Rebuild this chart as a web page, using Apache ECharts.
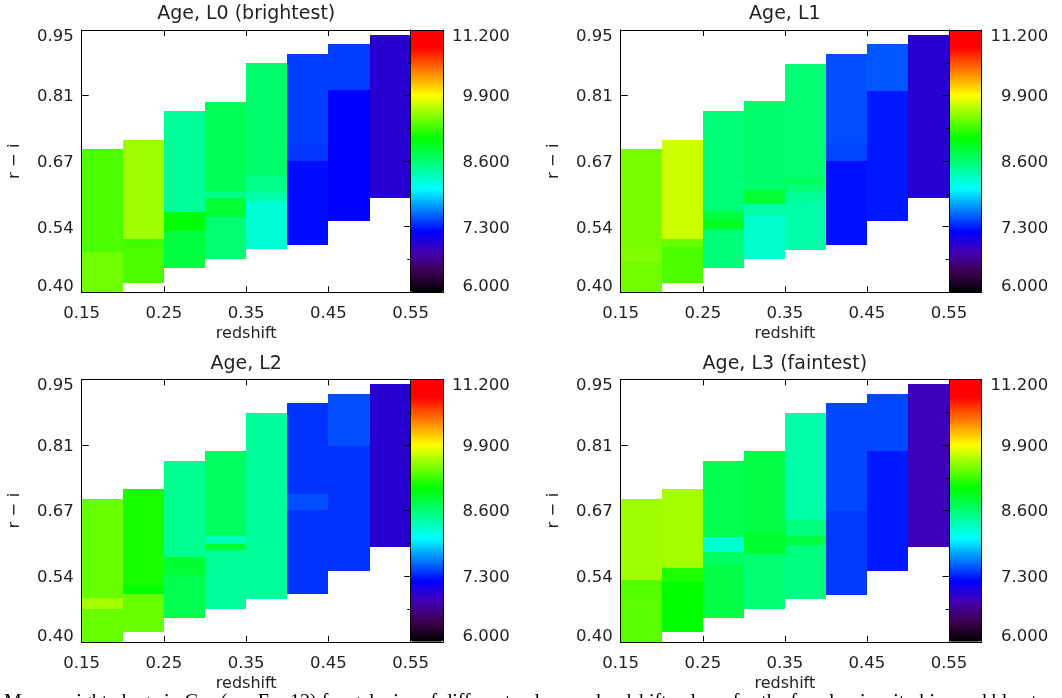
<!DOCTYPE html>
<html>
<head>
<meta charset="utf-8">
<script src="https://cdn.jsdelivr.net/npm/echarts@6/dist/echarts.min.js"></script>
<style>
html,body{margin:0;padding:0;background:#fff;}
#chart{width:1062px;height:698px;}
</style>
</head>
<body>
<div id="chart"></div>
<script>
// ---------- data ----------
const redshiftEdges = [0.15, 0.20, 0.25, 0.30, 0.35, 0.40, 0.45, 0.50, 0.55];
const xTickValues = [0.15, 0.25, 0.35, 0.45, 0.55];
const xTickLabels = ['0.15', '0.25', '0.35', '0.45', '0.55'];
const yTickValues = [0.40, 0.5375, 0.675, 0.8125, 0.95];
const yTickLabels = ['0.40', '0.54', '0.67', '0.81', '0.95'];
const cbTickValues = [6.0, 7.3, 8.6, 9.9, 11.2];
const cbTickLabels = ['6.000', '7.300', '8.600', '9.900', '11.200'];
const cbMinorTickValues = [6.65, 7.95, 9.25, 10.55];
const panelTitles = ['Age, L0 (brightest)', 'Age, L1', 'Age, L2', 'Age, L3 (faintest)'];
const caption = 'Mass-weighted age in Gyr (see Eq. 12) for galaxies of different colour and redshift values, for the four luminosity bins and blue to red colours';

// cells: [redshift bin index, r-i low, r-i high, age (Gyr)]
const ageL0 = [
  [0, 0.400, 0.484, 9.42], [0, 0.484, 0.700, 9.30],
  [1, 0.420, 0.494, 9.30], [1, 0.494, 0.512, 9.25], [1, 0.512, 0.719, 9.58],
  [2, 0.450, 0.529, 8.80], [2, 0.529, 0.569, 9.03], [2, 0.569, 0.780, 8.45],
  [3, 0.469, 0.557, 8.60], [3, 0.557, 0.598, 8.85], [3, 0.598, 0.610, 8.52], [3, 0.610, 0.799, 8.72],
  [4, 0.490, 0.591, 8.22], [4, 0.591, 0.610, 8.40], [4, 0.610, 0.644, 8.50], [4, 0.644, 0.881, 8.62],
  [5, 0.500, 0.676, 7.24], [5, 0.676, 0.714, 7.38], [5, 0.714, 0.900, 7.41],
  [6, 0.550, 0.824, 7.20], [6, 0.824, 0.921, 7.41],
  [7, 0.598, 0.940, 6.96]
];
const ageL1 = [
  [0, 0.400, 0.464, 9.43], [0, 0.464, 0.492, 9.48], [0, 0.492, 0.700, 9.44],
  [1, 0.420, 0.496, 9.30], [1, 0.496, 0.512, 9.39], [1, 0.512, 0.719, 9.73],
  [2, 0.450, 0.532, 8.58], [2, 0.532, 0.552, 8.92], [2, 0.552, 0.571, 8.80], [2, 0.571, 0.780, 8.58],
  [3, 0.470, 0.559, 8.25], [3, 0.559, 0.586, 8.38], [3, 0.586, 0.615, 8.85], [3, 0.615, 0.801, 8.63],
  [4, 0.489, 0.590, 8.38], [4, 0.590, 0.611, 8.45], [4, 0.611, 0.628, 8.60], [4, 0.628, 0.642, 8.70], [4, 0.642, 0.879, 8.60],
  [5, 0.500, 0.675, 7.25], [5, 0.675, 0.714, 7.43], [5, 0.714, 0.900, 7.46],
  [6, 0.550, 0.822, 7.28], [6, 0.822, 0.921, 7.49],
  [7, 0.598, 0.940, 6.96]
];
const ageL2 = [
  [0, 0.400, 0.469, 9.40], [0, 0.469, 0.491, 9.60], [0, 0.491, 0.699, 9.39],
  [1, 0.420, 0.500, 9.39], [1, 0.500, 0.519, 9.06], [1, 0.519, 0.720, 9.13],
  [2, 0.450, 0.540, 8.74], [2, 0.540, 0.578, 8.86], [2, 0.578, 0.779, 8.48],
  [3, 0.469, 0.593, 8.45], [3, 0.593, 0.605, 8.86], [3, 0.605, 0.622, 8.33], [3, 0.622, 0.800, 8.68],
  [4, 0.489, 0.597, 8.45], [4, 0.597, 0.879, 8.44],
  [5, 0.501, 0.676, 7.37], [5, 0.676, 0.710, 7.46], [5, 0.710, 0.900, 7.37],
  [6, 0.548, 0.811, 7.37], [6, 0.811, 0.919, 7.46],
  [7, 0.599, 0.940, 6.96]
];
const ageL3 = [
  [0, 0.400, 0.492, 9.35], [0, 0.492, 0.529, 9.33], [0, 0.529, 0.699, 9.58],
  [1, 0.420, 0.526, 9.05], [1, 0.526, 0.555, 9.14], [1, 0.555, 0.720, 9.60],
  [2, 0.450, 0.561, 8.78], [2, 0.561, 0.589, 8.66], [2, 0.589, 0.620, 8.24], [2, 0.620, 0.779, 8.74],
  [3, 0.469, 0.583, 8.60], [3, 0.583, 0.629, 8.86], [3, 0.629, 0.800, 8.78],
  [4, 0.489, 0.603, 8.55], [4, 0.603, 0.622, 8.80], [4, 0.622, 0.657, 8.55], [4, 0.657, 0.879, 8.38],
  [5, 0.499, 0.675, 7.39], [5, 0.675, 0.900, 7.44],
  [6, 0.548, 0.800, 7.28], [6, 0.800, 0.919, 7.44],
  [7, 0.599, 0.940, 6.84]
];
const panelData = [ageL0, ageL1, ageL2, ageL3];

// ---------- style / layout ----------
const AGE_MIN = 6.0, AGE_MAX = 11.2;
const cmapStops = [
  [6.0, [0, 0, 0]], [6.4, [60, 0, 80]], [6.8, [68, 0, 180]], [7.2, [0, 0, 255]],
  [8.05, [0, 255, 255]], [9.05, [0, 255, 0]], [9.9, [255, 255, 0]],
  [10.85, [255, 0, 0]], [11.2, [255, 0, 0]]
];
function cmap(v) {
  for (let i = 0; i < cmapStops.length - 1; i++) {
    const a = cmapStops[i], b = cmapStops[i + 1];
    if (v <= b[0] + 1e-9) {
      const t = Math.max(0, Math.min(1, (v - a[0]) / (b[0] - a[0])));
      const c = a[1].map((x, k) => Math.round(x + (b[1][k] - x) * t));
      return 'rgb(' + c.join(',') + ')';
    }
  }
  return 'rgb(255,0,0)';
}
const cmapColors = [];
for (let i = 0; i <= 104; i++) cmapColors.push(cmap(AGE_MIN + i * 0.05));

const layouts = [
  { left: 81.7, top: 30.0, width: 329.0, height: 262.3, cb: 32.6 },
  { left: 620.7, top: 30.0, width: 328.3, height: 262.3, cb: 32.7 },
  { left: 81.7, top: 379.4, width: 329.0, height: 262.4, cb: 32.6 },
  { left: 620.7, top: 379.4, width: 328.3, height: 262.4, cb: 32.7 }
];
const FONT = 'DejaVu Sans';
const TXT = '#222';
const lineStyle = { color: '#000', width: 1 };
const richLabels = {
  top: { fontFamily: FONT, fontSize: 16.5, color: TXT, padding: [13, 0, 0, 0] },
  mid: { fontFamily: FONT, fontSize: 16.5, color: TXT, padding: [3, 0, 0, 0] },
  bot: { fontFamily: FONT, fontSize: 16.5, color: TXT, padding: [0, 0, 11, 0] }
};
function tickFormatter(values, labels) {
  return function (v) {
    let idx = 0;
    for (let i = 0; i < values.length; i++) if (Math.abs(values[i] - v) < 1e-6) idx = i;
    const key = idx === 0 ? 'bot' : (idx === values.length - 1 ? 'top' : 'mid');
    return '{' + key + '|' + labels[idx] + '}';
  };
}

const grids = [], xAxes = [], yAxes = [], series = [], visualMaps = [];
layouts.forEach((L, p) => {
  grids.push({ left: L.left, top: L.top, width: L.width, height: L.height, containLabel: false });
});
layouts.forEach((L, p) => {
  grids.push({ left: L.left + L.width, top: L.top, width: L.cb, height: L.height, containLabel: false });
});

layouts.forEach((L, p) => {
  // plot: bottom x axis
  xAxes.push({
    gridIndex: p, type: 'value', min: 0.15, max: 0.55, position: 'bottom',
    axisLine: { show: true, onZero: false, lineStyle },
    axisTick: { show: true, inside: true, length: 6, lineStyle, customValues: xTickValues },
    axisLabel: {
      show: true, customValues: xTickValues, margin: 13,
      fontFamily: FONT, fontSize: 16.5, color: TXT,
      formatter: v => xTickLabels[xTickValues.findIndex(t => Math.abs(t - v) < 1e-6)]
    },
    splitLine: { show: false },
    name: 'redshift', nameLocation: 'middle', nameGap: 34,
    nameTextStyle: { fontFamily: FONT, fontSize: 16, color: TXT }
  });
  // plot: top x axis (title)
  xAxes.push({
    gridIndex: p, type: 'value', min: 0.15, max: 0.55, position: 'top',
    axisLine: { show: true, onZero: false, lineStyle },
    axisTick: { show: true, inside: true, length: 6, lineStyle, customValues: xTickValues },
    axisLabel: { show: false },
    splitLine: { show: false },
    name: panelTitles[p], nameLocation: 'middle', nameGap: 6,
    nameTextStyle: { fontFamily: FONT, fontSize: 19, color: TXT }
  });
  // plot: left y axis
  yAxes.push({
    gridIndex: p, type: 'value', min: 0.40, max: 0.95, position: 'left',
    axisLine: { show: true, onZero: false, lineStyle },
    axisTick: { show: true, inside: true, length: 7, lineStyle, customValues: yTickValues },
    axisLabel: {
      show: true, customValues: yTickValues, margin: 8,
      formatter: tickFormatter(yTickValues, yTickLabels), rich: richLabels
    },
    splitLine: { show: false },
    name: 'r \u2212 i', nameLocation: 'middle', nameGap: 58, nameRotate: 90,
    nameTextStyle: { fontFamily: FONT, fontSize: 16.5, color: TXT }
  });
  // plot: right y axis (frame only)
  yAxes.push({
    gridIndex: p, type: 'value', min: 0.40, max: 0.95, position: 'right',
    axisLine: { show: true, onZero: false, lineStyle },
    axisTick: { show: false }, axisLabel: { show: false }, splitLine: { show: false }
  });

  series.push({
    type: 'custom', xAxisIndex: 2 * p, yAxisIndex: 2 * p,
    encode: { x: [0, 1], y: [2, 3] },
    data: panelData[p].map(c => [redshiftEdges[c[0]], redshiftEdges[c[0] + 1], c[1], c[2], c[3]]),
    renderItem: function (params, api) {
      const a = api.coord([api.value(0), api.value(3)]);
      const b = api.coord([api.value(1), api.value(2)]);
      const x0 = Math.round(a[0]), y0 = Math.round(a[1]);
      const x1 = Math.round(b[0]), y1 = Math.round(b[1]);
      return {
        type: 'rect',
        shape: { x: x0, y: y0, width: x1 - x0, height: y1 - y0 },
        style: { fill: api.visual('color') }
      };
    },
    silent: true
  });

  visualMaps.push({
    type: 'continuous', seriesIndex: p, dimension: 4, min: AGE_MIN, max: AGE_MAX,
    inRange: { color: cmapColors },
    orient: 'vertical', left: L.left + L.width, top: L.top,
    itemWidth: L.cb, itemHeight: L.height, padding: 0,
    calculable: false, showLabel: false, text: null, hoverLink: false, z: 4
  });
});

// colorbar axes
layouts.forEach((L, p) => {
  const g = 4 + p;
  ['bottom', 'top'].forEach(pos => xAxes.push({
    gridIndex: g, type: 'value', min: 0, max: 1, position: pos, z: 6,
    axisLine: { show: true, onZero: false, lineStyle },
    axisTick: { show: false }, axisLabel: { show: false }, splitLine: { show: false }
  }));
  yAxes.push({
    gridIndex: g, type: 'value', min: AGE_MIN, max: AGE_MAX, position: 'left', z: 6,
    axisLine: { show: true, onZero: false, lineStyle },
    axisTick: { show: true, inside: false, length: 6.5, lineStyle, customValues: [7.3, 8.6, 9.9] },
    axisLabel: { show: false }, splitLine: { show: false }
  });
  yAxes.push({
    gridIndex: g, type: 'value', min: AGE_MIN, max: AGE_MAX, position: 'left', z: 6,
    axisLine: { show: false },
    axisTick: { show: true, inside: false, length: 3.5, lineStyle, customValues: cbMinorTickValues },
    axisLabel: { show: false }, splitLine: { show: false }
  });
  yAxes.push({
    gridIndex: g, type: 'value', min: AGE_MIN, max: AGE_MAX, position: 'right', z: 6,
    axisLine: { show: true, onZero: false, lineStyle },
    axisTick: { show: false },
    axisLabel: {
      show: true, customValues: cbTickValues, align: 'right', margin: 66.5,
      formatter: tickFormatter(cbTickValues, cbTickLabels), rich: richLabels
    },
    splitLine: { show: false }
  });
});

const chart = echarts.init(document.getElementById('chart'), null, { renderer: 'canvas' });
chart.setOption({
  animation: false,
  backgroundColor: '#fff',
  title: {
    text: caption, left: 4, top: 692.5, padding: 0,
    textStyle: { fontFamily: 'Liberation Serif', fontSize: 20, fontWeight: 'normal', color: '#000' }
  },
  grid: grids,
  xAxis: xAxes,
  yAxis: yAxes,
  visualMap: visualMaps,
  series: series
});
</script>
</body>
</html>
